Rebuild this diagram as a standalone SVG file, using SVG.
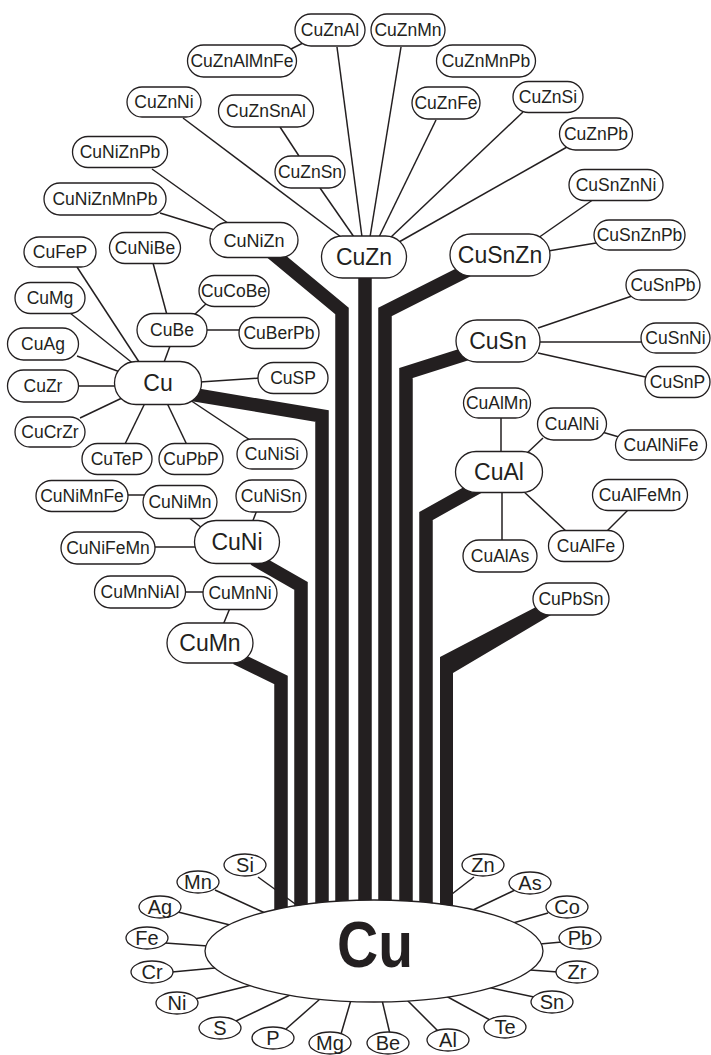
<svg xmlns="http://www.w3.org/2000/svg" width="711" height="1055" viewBox="0 0 711 1055">
<style>
.n rect{fill:#fff;stroke:#231f20;stroke-width:1.3}
.n text{font-family:"Liberation Sans",Arial,sans-serif;font-size:17.5px;text-anchor:middle;fill:#231f20}
.b text{font-size:23px}
.m text{font-size:18px}
.e ellipse{fill:#fff;stroke:#231f20;stroke-width:1.3}
.e text{font-family:"Liberation Sans",Arial,sans-serif;font-size:20px;text-anchor:middle;fill:#231f20}
.l{stroke:#231f20;stroke-width:1.5;fill:none}
.bar{stroke:#231f20;stroke-width:13.5;fill:none;stroke-linejoin:miter}
</style>
<rect width="711" height="1055" fill="#fff"/>
<g id="connectors">
<g class="l">
<line x1="183" y1="118" x2="345" y2="240"/>
<line x1="280" y1="127" x2="299" y2="156"/>
<line x1="320" y1="188" x2="354" y2="237"/>
<line x1="337" y1="47" x2="362" y2="237"/>
<line x1="401" y1="47" x2="370" y2="237"/>
<line x1="436" y1="120" x2="379" y2="237"/>
<line x1="523" y1="112" x2="390" y2="238"/>
<line x1="567" y1="147" x2="399" y2="242"/>
<line x1="303" y1="43" x2="289" y2="50"/>
<line x1="152" y1="169" x2="232" y2="226"/>
<line x1="160" y1="213" x2="215" y2="230"/>
<line x1="77" y1="267" x2="141" y2="365"/>
<line x1="70" y1="313" x2="135" y2="365"/>
<line x1="77" y1="356" x2="120" y2="372"/>
<line x1="78" y1="386" x2="117" y2="386"/>
<line x1="80" y1="418" x2="122" y2="398"/>
<line x1="170" y1="346" x2="163" y2="365"/>
<line x1="153" y1="263" x2="167" y2="315"/>
<line x1="194" y1="315" x2="208" y2="302"/>
<line x1="205" y1="330" x2="241" y2="330"/>
<line x1="200" y1="382" x2="260" y2="378"/>
<line x1="145" y1="403" x2="125" y2="444"/>
<line x1="167" y1="403" x2="187" y2="445"/>
<line x1="190" y1="400" x2="250" y2="440"/>
<line x1="538" y1="238" x2="594" y2="199"/>
<line x1="548" y1="251" x2="596" y2="243"/>
<line x1="538" y1="328" x2="632" y2="296"/>
<line x1="540" y1="342" x2="643" y2="342"/>
<line x1="538" y1="353" x2="650" y2="378"/>
<line x1="501" y1="416" x2="501" y2="454"/>
<line x1="543" y1="438" x2="525" y2="455"/>
<line x1="602" y1="432" x2="619" y2="437"/>
<line x1="502" y1="491" x2="502" y2="542"/>
<line x1="522" y1="490" x2="567" y2="532"/>
<line x1="606" y1="532" x2="628" y2="510"/>
<line x1="126" y1="495" x2="145" y2="495"/>
<line x1="188" y1="517" x2="202" y2="528"/>
<line x1="257" y1="510" x2="252" y2="523"/>
<line x1="153" y1="547" x2="196" y2="547"/>
<line x1="183" y1="592" x2="205" y2="592"/>
<line x1="230" y1="608" x2="223" y2="625"/>
<line x1="258" y1="877" x2="298" y2="906"/>
<line x1="215" y1="890" x2="265" y2="913"/>
<line x1="178" y1="912" x2="230" y2="925"/>
<line x1="165" y1="943" x2="208" y2="946"/>
<line x1="172" y1="972" x2="215" y2="968"/>
<line x1="195" y1="999" x2="252" y2="985"/>
<line x1="236" y1="1021" x2="290" y2="995"/>
<line x1="286" y1="1029" x2="320" y2="999"/>
<line x1="341" y1="1034" x2="351" y2="1000"/>
<line x1="390" y1="1034" x2="382" y2="1000"/>
<line x1="438" y1="1031" x2="407" y2="1000"/>
<line x1="490" y1="1020" x2="446" y2="996"/>
<line x1="534" y1="997" x2="487" y2="987"/>
<line x1="558" y1="972" x2="530" y2="970"/>
<line x1="562" y1="942" x2="540" y2="944"/>
<line x1="548" y1="913" x2="513" y2="923"/>
<line x1="515" y1="890" x2="473" y2="910"/>
<line x1="474" y1="877" x2="452" y2="894"/>
</g>
<g class="bar">
<polyline points="236,658 281,680 281,945"/>
<polyline points="254,559 301,586 301,945"/>
<polyline points="190,394 322,416 322,945"/>
<polyline points="271,252 342,311 342,945"/>
<polyline points="365,270 365,945"/>
<polyline points="472,268 385,312 385,945"/>
<polyline points="472,352 406,373 406,945"/>
<polyline points="478,487 426,516 426,945"/>
</g>
<polygon points="538,606 440,657 440,945 453,945 453,673 556,612" fill="#231f20"/>
</g>
<g id="n-CuZnAl" class="n"><rect x="295" y="14" width="70" height="32" rx="16"/><text x="330" y="36">CuZnAl</text></g>
<g id="n-CuZnMn" class="n"><rect x="371" y="14" width="74" height="32" rx="16"/><text x="408" y="36">CuZnMn</text></g>
<g id="n-CuZnAlMnFe" class="n"><rect x="187.5" y="45" width="109" height="32" rx="16"/><text x="242" y="67">CuZnAlMnFe</text></g>
<g id="n-CuZnMnPb" class="n"><rect x="436.5" y="45" width="99" height="32" rx="16"/><text x="486" y="67">CuZnMnPb</text></g>
<g id="n-CuZnNi" class="n"><rect x="127" y="87" width="74" height="30" rx="15"/><text x="164" y="108">CuZnNi</text></g>
<g id="n-CuZnSnAl" class="n"><rect x="218.5" y="95" width="95" height="32" rx="16"/><text x="266" y="117">CuZnSnAl</text></g>
<g id="n-CuZnFe" class="n"><rect x="412" y="87" width="68" height="32" rx="16"/><text x="446" y="109">CuZnFe</text></g>
<g id="n-CuZnSi" class="n"><rect x="513" y="81.5" width="70" height="31" rx="15.5"/><text x="548" y="103">CuZnSi</text></g>
<g id="n-CuZnPb" class="n"><rect x="559.5" y="118" width="73" height="32" rx="16"/><text x="596" y="140">CuZnPb</text></g>
<g id="n-CuZnSn" class="n"><rect x="275" y="156" width="70" height="32" rx="16"/><text x="310" y="178">CuZnSn</text></g>
<g id="n-CuNiZnPb" class="n"><rect x="72.5" y="136.5" width="95" height="31" rx="15.5"/><text x="120" y="158">CuNiZnPb</text></g>
<g id="n-CuNiZnMnPb" class="n"><rect x="44" y="183" width="122" height="32" rx="16"/><text x="105" y="205">CuNiZnMnPb</text></g>
<g id="n-CuSnZnNi" class="n"><rect x="569" y="169.5" width="94" height="31" rx="15.5"/><text x="616" y="191">CuSnZnNi</text></g>
<g id="n-CuSnZnPb" class="n"><rect x="594" y="220" width="91" height="30" rx="15"/><text x="639.5" y="241">CuSnZnPb</text></g>
<g id="n-CuFeP" class="n"><rect x="24" y="237" width="72" height="30" rx="15"/><text x="60" y="258">CuFeP</text></g>
<g id="n-CuNiBe" class="n"><rect x="109.5" y="232.5" width="71" height="31" rx="15.5"/><text x="145" y="254">CuNiBe</text></g>
<g id="n-CuMg" class="n"><rect x="15" y="282.5" width="70" height="31" rx="15.5"/><text x="50" y="304">CuMg</text></g>
<g id="n-CuCoBe" class="n"><rect x="199" y="275.5" width="70" height="31" rx="15.5"/><text x="234" y="297">CuCoBe</text></g>
<g id="n-CuBe" class="n"><rect x="137" y="313.5" width="70" height="33" rx="16.5"/><text x="172" y="336">CuBe</text></g>
<g id="n-CuBerPb" class="n"><rect x="239" y="317.5" width="80" height="31" rx="15.5"/><text x="279" y="339">CuBerPb</text></g>
<g id="n-CuAg" class="n"><rect x="7.5" y="328" width="71" height="32" rx="16"/><text x="43" y="350">CuAg</text></g>
<g id="n-CuZr" class="n"><rect x="7.5" y="370" width="71" height="32" rx="16"/><text x="43" y="392">CuZr</text></g>
<g id="n-CuSP" class="n"><rect x="258" y="362.5" width="70" height="31" rx="15.5"/><text x="293" y="384">CuSP</text></g>
<g id="n-CuCrZr" class="n"><rect x="15" y="417" width="70" height="30" rx="15"/><text x="50" y="438">CuCrZr</text></g>
<g id="n-CuTeP" class="n"><rect x="82" y="443.5" width="70" height="31" rx="15.5"/><text x="117" y="465">CuTeP</text></g>
<g id="n-CuPbP" class="n"><rect x="159" y="443.5" width="64" height="31" rx="15.5"/><text x="191" y="465">CuPbP</text></g>
<g id="n-CuNiSi" class="n"><rect x="237" y="439" width="70" height="30" rx="15"/><text x="272" y="460">CuNiSi</text></g>
<g id="n-CuSnPb" class="n"><rect x="626" y="270" width="74" height="30" rx="15"/><text x="663" y="291">CuSnPb</text></g>
<g id="n-CuSnNi" class="n"><rect x="641" y="323" width="69" height="30" rx="15"/><text x="675.5" y="344">CuSnNi</text></g>
<g id="n-CuSnP" class="n"><rect x="645" y="366.5" width="65" height="31" rx="15.5"/><text x="677.5" y="388">CuSnP</text></g>
<g id="n-CuAlMn" class="n"><rect x="463.5" y="388" width="67" height="30" rx="15"/><text x="497" y="409">CuAlMn</text></g>
<g id="n-CuAlNi" class="n"><rect x="537.5" y="408" width="69" height="32" rx="16"/><text x="572" y="430">CuAlNi</text></g>
<g id="n-CuAlNiFe" class="n"><rect x="615.5" y="430" width="91" height="30" rx="15"/><text x="661" y="451">CuAlNiFe</text></g>
<g id="n-CuAlFeMn" class="n"><rect x="592.5" y="479.5" width="95" height="31" rx="15.5"/><text x="640" y="501">CuAlFeMn</text></g>
<g id="n-CuAlFe" class="n"><rect x="548.5" y="530.5" width="75" height="31" rx="15.5"/><text x="586" y="552">CuAlFe</text></g>
<g id="n-CuAlAs" class="n"><rect x="463" y="540" width="74" height="32" rx="16"/><text x="500" y="562">CuAlAs</text></g>
<g id="n-CuPbSn" class="n"><rect x="533" y="583" width="76" height="32" rx="16"/><text x="571" y="605">CuPbSn</text></g>
<g id="n-CuNiMnFe" class="n"><rect x="36" y="480.5" width="92" height="31" rx="15.5"/><text x="82" y="502">CuNiMnFe</text></g>
<g id="n-CuNiMn" class="n"><rect x="143" y="485.5" width="74" height="33" rx="16.5"/><text x="180" y="508">CuNiMn</text></g>
<g id="n-CuNiSn" class="n"><rect x="236" y="480" width="70" height="32" rx="16"/><text x="271" y="502">CuNiSn</text></g>
<g id="n-CuNiFeMn" class="n"><rect x="61" y="532" width="94" height="32" rx="16"/><text x="108" y="554">CuNiFeMn</text></g>
<g id="n-CuMnNiAl" class="n"><rect x="94.5" y="576" width="91" height="32" rx="16"/><text x="140" y="598">CuMnNiAl</text></g>
<g id="n-CuMnNi" class="n"><rect x="203" y="576.5" width="74" height="33" rx="16.5"/><text x="240" y="599">CuMnNi</text></g>
<g id="n-CuNiZn" class="n m"><rect x="210" y="222.5" width="88" height="35" rx="17.5"/><text x="254" y="246.5">CuNiZn</text></g>
<g id="n-CuZn" class="n b"><rect x="321.5" y="236" width="85" height="42" rx="21"/><text x="364" y="265">CuZn</text></g>
<g id="n-CuSnZn" class="n b"><rect x="450" y="234" width="100" height="42" rx="21"/><text x="500" y="263">CuSnZn</text></g>
<g id="n-CuSn" class="n b"><rect x="456" y="320" width="84" height="42" rx="21"/><text x="498" y="349">CuSn</text></g>
<g id="n-Cu" class="n b"><rect x="114.5" y="361.5" width="87" height="43" rx="21.5"/><text x="158" y="391">Cu</text></g>
<g id="n-CuAl" class="n b"><rect x="455.5" y="451.5" width="87" height="41" rx="20.5"/><text x="499" y="480">CuAl</text></g>
<g id="n-CuNi" class="n b"><rect x="194.5" y="520.5" width="85" height="43" rx="21.5"/><text x="237" y="550">CuNi</text></g>
<g id="n-CuMn" class="n b"><rect x="167" y="623" width="86" height="40" rx="20"/><text x="210" y="651">CuMn</text></g>
<g id="n-CuBase" class="e"><ellipse cx="374" cy="951" rx="169" ry="51"/><text x="375" y="967" style="font-size:64px;font-weight:bold" textLength="76" lengthAdjust="spacingAndGlyphs">Cu</text></g>
<g id="e-Si" class="e"><ellipse cx="245" cy="865" rx="21" ry="11"/><text x="245" y="872">Si</text></g>
<g id="e-Mn" class="e"><ellipse cx="198" cy="882" rx="21" ry="11"/><text x="198" y="889">Mn</text></g>
<g id="e-Ag" class="e"><ellipse cx="160" cy="907" rx="21" ry="11"/><text x="160" y="914">Ag</text></g>
<g id="e-Fe" class="e"><ellipse cx="147" cy="938" rx="21" ry="11"/><text x="147" y="945">Fe</text></g>
<g id="e-Cr" class="e"><ellipse cx="152" cy="972" rx="21" ry="11"/><text x="152" y="979">Cr</text></g>
<g id="e-Ni" class="e"><ellipse cx="177" cy="1003" rx="21" ry="11"/><text x="177" y="1010">Ni</text></g>
<g id="e-S" class="e"><ellipse cx="220" cy="1028" rx="21" ry="11"/><text x="220" y="1035">S</text></g>
<g id="e-P" class="e"><ellipse cx="273" cy="1038" rx="21" ry="11"/><text x="273" y="1045">P</text></g>
<g id="e-Mg" class="e"><ellipse cx="330" cy="1043" rx="21" ry="11"/><text x="330" y="1050">Mg</text></g>
<g id="e-Be" class="e"><ellipse cx="388" cy="1043" rx="21" ry="11"/><text x="388" y="1050">Be</text></g>
<g id="e-Al" class="e"><ellipse cx="448" cy="1040" rx="21" ry="11"/><text x="448" y="1047">Al</text></g>
<g id="e-Te" class="e"><ellipse cx="505" cy="1027" rx="21" ry="11"/><text x="505" y="1034">Te</text></g>
<g id="e-Sn" class="e"><ellipse cx="552" cy="1002" rx="21" ry="11"/><text x="552" y="1009">Sn</text></g>
<g id="e-Zr" class="e"><ellipse cx="577" cy="972" rx="21" ry="11"/><text x="577" y="979">Zr</text></g>
<g id="e-Pb" class="e"><ellipse cx="580" cy="938" rx="21" ry="11"/><text x="580" y="945">Pb</text></g>
<g id="e-Co" class="e"><ellipse cx="567" cy="907" rx="21" ry="11"/><text x="567" y="914">Co</text></g>
<g id="e-As" class="e"><ellipse cx="530" cy="883" rx="21" ry="11"/><text x="530" y="890">As</text></g>
<g id="e-Zn" class="e"><ellipse cx="483" cy="865" rx="21" ry="11"/><text x="483" y="872">Zn</text></g>
</svg>
